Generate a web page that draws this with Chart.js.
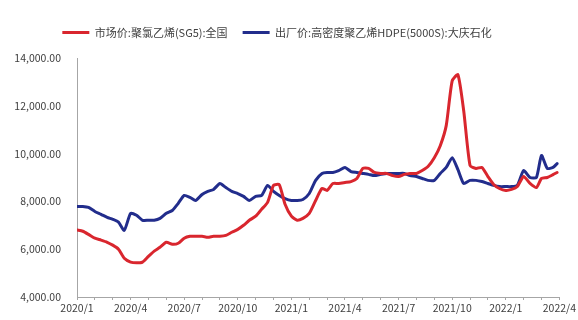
<!DOCTYPE html>
<html>
<head>
<meta charset="utf-8">
<script src="https://cdn.jsdelivr.net/npm/chart.js@4.4.1/dist/chart.umd.min.js"></script>
<style>
  html, body { margin: 0; padding: 0; background: #ffffff; }
  #wrap { width: 578px; height: 320px; position: relative; }
</style>
</head>
<body>
<div id="wrap"><canvas id="c" width="578" height="320"></canvas></div>
<script>
// Sampling dates (three per month) for both price series
const dates = [
  '2020-01-01','2020-01-11','2020-01-21','2020-02-01','2020-02-11','2020-02-21',
  '2020-03-01','2020-03-11','2020-03-21','2020-04-01','2020-04-11','2020-04-21',
  '2020-05-01','2020-05-11','2020-05-21','2020-06-01','2020-06-11','2020-06-21',
  '2020-07-01','2020-07-11','2020-07-21','2020-08-01','2020-08-11','2020-08-21',
  '2020-09-01','2020-09-11','2020-09-21','2020-10-01','2020-10-11','2020-10-21',
  '2020-11-01','2020-11-11','2020-11-21','2020-12-01','2020-12-11','2020-12-21',
  '2021-01-01','2021-01-11','2021-01-21','2021-02-01','2021-02-11','2021-02-21',
  '2021-03-01','2021-03-11','2021-03-21','2021-04-01','2021-04-11','2021-04-21',
  '2021-05-01','2021-05-11','2021-05-21','2021-06-01','2021-06-11','2021-06-21',
  '2021-07-01','2021-07-11','2021-07-21','2021-08-01','2021-08-11','2021-08-21',
  '2021-09-01','2021-09-11','2021-09-21','2021-10-01','2021-10-11','2021-10-21',
  '2021-11-01','2021-11-11','2021-11-21','2021-12-01','2021-12-11','2021-12-21',
  '2022-01-01','2022-01-11','2022-01-21','2022-02-01','2022-02-11','2022-02-21',
  '2022-03-01','2022-03-11','2022-03-21','2022-03-28'
];

// 市场价:聚氯乙烯(SG5):全国 (元/吨)
const pvcMarket = [
  6800, 6750, 6620, 6460, 6380, 6290,
  6170, 6000, 5620, 5460, 5430, 5460,
  5700, 5920, 6080, 6290, 6210, 6250,
  6460, 6540, 6540, 6540, 6500, 6540,
  6540, 6580, 6710, 6830, 7000, 7210,
  7380, 7670, 7960, 8670, 8700, 7880,
  7380, 7210, 7290, 7500, 8040, 8540,
  8460, 8750, 8750, 8790, 8830, 8960,
  9380, 9380, 9210, 9170, 9170, 9080,
  9040, 9130, 9170, 9170, 9290, 9460,
  9830, 10330, 11170, 13040, 13300, 11790,
  9500, 9380, 9420, 9040, 8710, 8540,
  8460, 8500, 8620, 9040, 8750, 8580,
  8960, 9000, 9120, 9210
];

// 出厂价:高密度聚乙烯HDPE(5000S):大庆石化 (元/吨)
const hdpeDaqing = [
  7790, 7790, 7750, 7580, 7460, 7330,
  7250, 7130, 6790, 7500, 7420, 7210,
  7210, 7210, 7290, 7500, 7620, 7920,
  8250, 8170, 8040, 8290, 8420, 8500,
  8750, 8580, 8420, 8330, 8210, 8040,
  8210, 8250, 8670, 8420, 8250, 8120,
  8040, 8040, 8080, 8330, 8880, 9170,
  9210, 9210, 9290, 9420, 9250, 9210,
  9170, 9130, 9080, 9130, 9170, 9170,
  9170, 9170, 9080, 9040, 8960, 8880,
  8880, 9170, 9420, 9830, 9330, 8750,
  8880, 8880, 8830, 8750, 8670, 8620,
  8620, 8620, 8670, 9290, 9000, 9000,
  9920, 9380, 9420, 9580
];

const seriesNames = ['市场价:聚氯乙烯(SG5):全国', '出厂价:高密度聚乙烯HDPE(5000S):大庆石化'];
const xTickLabels = ['2020/1','2020/4','2020/7','2020/10','2021/1','2021/4','2021/7','2021/10','2022/1','2022/4'];
const yTicks = [4000, 6000, 8000, 10000, 12000, 14000];

const RED = '#d9262e';
const BLUE = '#222d8c';

// Months elapsed since 2020/1 for a yyyy-mm-dd string
function monthIndex(s) {
  const [y, m, d] = s.split('-').map(Number);
  const dim = new Date(y, m, 0).getDate();
  return (y - 2020) * 12 + (m - 1) + (d - 1) / dim;
}

const toPoints = vals => dates.map((d, i) => ({ x: monthIndex(d), y: vals[i] }));

const font = "'Noto Sans CJK SC', 'Noto Sans', sans-serif";

// Nudge the legend row up and slightly left of the page centre
const legendShift = {
  id: 'legendShift',
  afterLayout(chart) {
    const lg = chart.legend;
    if (!lg) return;
    lg.top -= 10; lg.bottom -= 10;
    lg.left -= 12; lg.right -= 12;
  }
};

new Chart(document.getElementById('c'), {
  type: 'line',
  data: {
    datasets: [
      { label: seriesNames[0], data: toPoints(pvcMarket), borderColor: RED, backgroundColor: RED,
        borderWidth: 3, pointRadius: 0, tension: 0.2, borderJoinStyle: 'round', borderCapStyle: 'round' },
      { label: seriesNames[1], data: toPoints(hdpeDaqing), borderColor: BLUE, backgroundColor: BLUE,
        borderWidth: 3, pointRadius: 0, tension: 0.2, borderJoinStyle: 'round', borderCapStyle: 'round' }
    ]
  },
  plugins: [legendShift],
  options: {
    responsive: false,
    animation: false,
    layout: { padding: { left: 0, right: 0, top: 22, bottom: 0 } },
    plugins: {
      tooltip: { enabled: false },
      legend: {
        position: 'top',
        labels: {
          color: '#404040',
          font: { family: font, size: 11 },
          boxWidth: 27,
          boxHeight: 3,
          padding: 15,
          generateLabels(chart) {
            return Chart.defaults.plugins.legend.labels.generateLabels(chart).map(it => {
              it.lineWidth = 0;
              return it;
            });
          }
        }
      }
    },
    scales: {
      x: {
        type: 'linear',
        min: 0,
        max: 27,
        afterFit(scale) { scale.height = 23; },
        border: { display: true, color: '#a6a6a6', width: 1 },
        grid: { display: true, drawOnChartArea: false, drawTicks: true, tickLength: 3, color: '#a6a6a6' },
        ticks: {
          stepSize: 1,
          autoSkip: false,
          maxRotation: 0,
          padding: 2,
          color: '#404040',
          font: { family: font, size: 10.5 },
          callback: v => (v % 3 === 0 ? xTickLabels[v / 3] : '')
        }
      },
      y: {
        min: yTicks[0],
        max: yTicks[yTicks.length - 1],
        afterFit(scale) { scale.width = 77; },
        afterBuildTicks(scale) { scale.ticks = yTicks.map(v => ({ value: v })); },
        border: { display: true, color: '#a6a6a6', width: 1 },
        grid: { display: false },
        ticks: {
          padding: 8,
          color: '#404040',
          font: { family: font, size: 10.5 },
          callback: v => Number(v).toLocaleString('en-US', { minimumFractionDigits: 2, maximumFractionDigits: 2 })
        }
      }
    }
  }
});
</script>
</body>
</html>
